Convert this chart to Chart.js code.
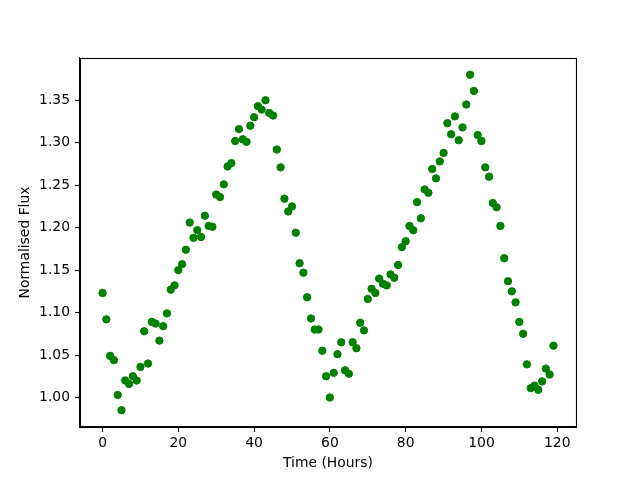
<!DOCTYPE html>
<html>
<head>
<meta charset="utf-8">
<script src="https://cdn.jsdelivr.net/npm/chart.js@4/dist/chart.umd.min.js"></script>
<style>
  html, body { margin: 0; padding: 0; background: #ffffff; }
  canvas { display: block; }
</style>
</head>
<body>
<canvas id="c" width="640" height="480"></canvas>
<script>
const timeHours = [0,1,2,3,4,5,6,7,8,9,10,11,12,13,14,15,16,17,18,19,
  20,21,22,23,24,25,26,27,28,29,30,31,32,33,34,35,36,37,38,39,
  40,41,42,43,44,45,46,47,48,49,50,51,52,53,54,55,56,57,58,59,
  60,61,62,63,64,65,66,67,68,69,70,71,72,73,74,75,76,77,78,79,
  80,81,82,83,84,85,86,87,88,89,90,91,92,93,94,95,96,97,98,99,
  100,101,102,103,104,105,106,107,108,109,110,111,112,113,114,115,116,117,118,119];

const normalisedFlux = [1.123,1.092,1.049,1.044,1.003,0.985,1.020,1.016,1.025,1.020,
  1.036,1.078,1.040,1.089,1.087,1.067,1.084,1.099,1.127,1.132,
  1.150,1.157,1.174,1.206,1.188,1.197,1.189,1.214,1.202,1.201,
  1.239,1.236,1.251,1.272,1.276,1.302,1.316,1.304,1.301,1.320,
  1.330,1.343,1.339,1.350,1.335,1.332,1.292,1.271,1.234,1.219,
  1.225,1.194,1.158,1.147,1.118,1.093,1.080,1.080,1.055,1.025,
  1.000,1.029,1.051,1.065,1.032,1.028,1.065,1.058,1.088,1.079,
  1.116,1.128,1.123,1.140,1.134,1.132,1.145,1.141,1.156,1.177,
  1.184,1.202,1.197,1.230,1.211,1.245,1.241,1.269,1.258,1.278,
  1.288,1.323,1.310,1.331,1.303,1.318,1.345,1.380,1.361,1.309,
  1.302,1.271,1.260,1.229,1.224,1.202,1.164,1.137,1.125,1.112,
  1.089,1.075,1.039,1.011,1.014,1.009,1.019,1.034,1.027,1.061];

const xTickValues = [0, 20, 40, 60, 80, 100, 120];
const yTickValues = [1.00, 1.05, 1.10, 1.15, 1.20, 1.25, 1.30, 1.35];

const xAxisLabel = 'Time (Hours)';
const yAxisLabel = 'Normalised Flux';

const points = timeHours.map((t, i) => ({ x: t, y: normalisedFlux[i] }));

// matplotlib-style 5% margins
const xMinD = Math.min(...timeHours), xMaxD = Math.max(...timeHours);
const yMinD = Math.min(...normalisedFlux), yMaxD = Math.max(...normalisedFlux);
const xm = (xMaxD - xMinD) * 0.05, ym = (yMaxD - yMinD) * 0.05;

const FONT = { family: '"DejaVu Sans", sans-serif', size: 13.9 };

const framePlugin = {
  id: 'frame',
  afterDraw(chart) {
    const { ctx, chartArea: a } = chart;
    ctx.save();
    ctx.strokeStyle = '#000000';
    ctx.lineWidth = 1.1;
    ctx.strokeRect(Math.round(a.left) + 0.5, Math.round(a.top) + 0.5,
                   Math.round(a.right - a.left), Math.round(a.bottom - a.top));
    ctx.restore();
  }
};

new Chart(document.getElementById('c'), {
  type: 'scatter',
  data: {
    datasets: [{
      data: points,
      backgroundColor: '#008000',
      borderColor: '#008000',
      borderWidth: 1,
      pointRadius: 3.7,
      pointHoverRadius: 3.7
    }]
  },
  options: {
    responsive: false,
    animation: false,
    events: [],
    layout: { padding: { left: 0, top: 58, right: 64, bottom: 0 } },
    plugins: { legend: { display: false }, tooltip: { enabled: false } },
    scales: {
      x: {
        type: 'linear',
        min: xMinD - xm,
        max: xMaxD + xm,
        afterBuildTicks: (s) => { s.ticks = xTickValues.map(v => ({ value: v })); },
        afterFit: (s) => { s.height = 53; },
        ticks: { color: '#000000', font: FONT, padding: 3, maxRotation: 0,
                 callback: (v) => String(v) },
        grid: { drawOnChartArea: false, drawTicks: true, tickLength: 5,
                tickColor: '#000000', tickWidth: 1.1 },
        border: { display: true, color: '#000000', width: 1.1 },
        title: { display: true, text: xAxisLabel, color: '#000000', font: FONT,
                 padding: { top: 0, bottom: 8.4 } }
      },
      y: {
        type: 'linear',
        min: yMinD - ym,
        max: yMaxD + ym,
        afterBuildTicks: (s) => { s.ticks = yTickValues.map(v => ({ value: v })); },
        afterFit: (s) => { s.width = 80; },
        ticks: { color: '#000000', font: FONT, padding: 5,
                 callback: (v) => Number(v).toFixed(2) },
        grid: { drawOnChartArea: false, drawTicks: true, tickLength: 5,
                tickColor: '#000000', tickWidth: 1.1 },
        border: { display: true, color: '#000000', width: 1.1 },
        title: { display: true, text: yAxisLabel, color: '#000000', font: FONT,
                 padding: { top: 16.7, bottom: 0 } }
      }
    }
  },
  plugins: [framePlugin]
});
</script>
</body>
</html>
